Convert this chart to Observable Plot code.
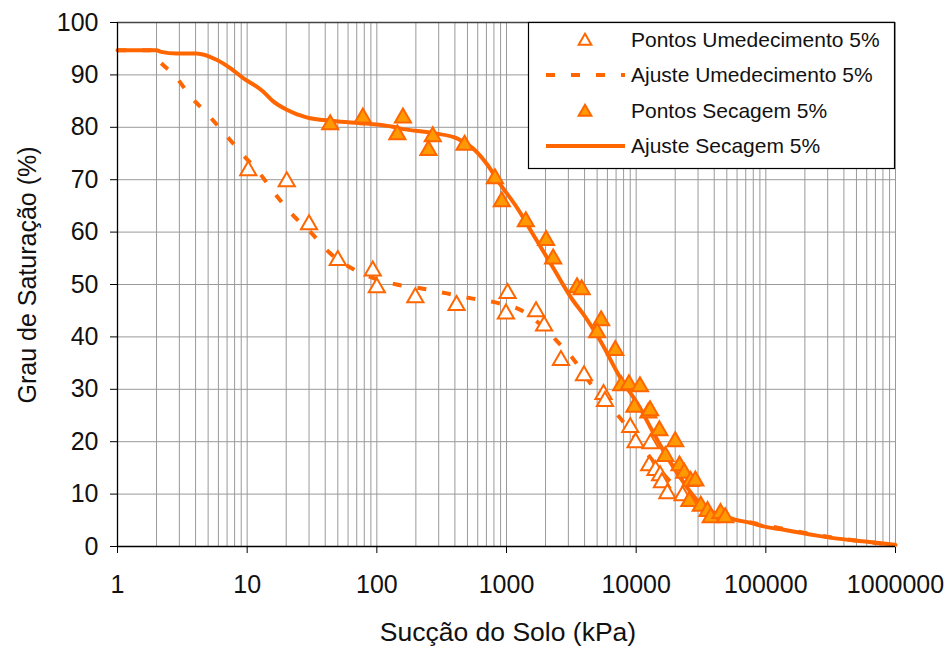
<!DOCTYPE html>
<html>
<head>
<meta charset="utf-8">
<script src="https://cdn.jsdelivr.net/npm/d3@7"></script>
<script src="https://cdn.jsdelivr.net/npm/@observablehq/plot@0.6"></script>
<style>
  html, body { margin: 0; padding: 0; background: #fff; }
  #chart { position: relative; width: 951px; height: 650px; }
</style>
</head>
<body>
<div id="chart"></div>
<script>
// ---- Data ----
const xTickValues = [1, 10, 100, 1000, 10000, 100000, 1000000];
const yTickValues = [0, 10, 20, 30, 40, 50, 60, 70, 80, 90, 100];

const xLabel = "Sucção do Solo (kPa)";
const yLabel = "Grau de Saturação (%)";
const seriesNames = ["Pontos Umedecimento 5%", "Ajuste Umedecimento 5%", "Pontos Secagem 5%", "Ajuste Secagem 5%"];

// Pontos Umedecimento 5% (open triangles)
const wetPoints = [
  [10.2, 72.1], [20.2, 70.0], [30, 61.8], [50, 55.0], [93, 53.0], [100, 49.8],
  [198, 47.9], [412, 46.4], [1020, 48.7], [990, 44.8], [1690, 45.2], [1950, 42.5],
  [2630, 35.9], [3960, 33.0], [5600, 29.4], [5750, 28.1], [9000, 23.1], [9900, 20.2],
  [12900, 20.0], [12600, 15.8], [14100, 14.9], [15300, 13.9], [15800, 12.6],
  [17400, 10.5], [22800, 10.1]
];

// Ajuste Umedecimento 5% (dashed)
const wetCurve = [
  [1, 94.7], [1.8, 94.7], [2.0, 93.2], [2.85, 89.5], [3.6, 86.1], [4.9, 82.6], [6.7, 78.8],
  [9.1, 75.0], [12.5, 71.2], [16.3, 67.4], [22, 63.5], [31.6, 59.7], [43, 56.1],
  [64, 53.1], [100, 51.0], [142, 50.0], [227, 49.2], [347, 48.3], [550, 47.3],
  [850, 46.5], [1320, 45.0], [1800, 42.5], [2450, 39.2], [3270, 35.8], [4420, 31.2],
  [5900, 27.5], [7940, 23.8], [11500, 18.5], [18300, 12.4], [30000, 8.2],
  [45000, 5.9], [70000, 4.8], [100000, 4.0], [150000, 3.2], [200000, 2.6],
  [350000, 1.6], [600000, 0.9], [1000000, 0.2]
];

// Pontos Secagem 5% (filled triangles)
const dryPoints = [
  [43.7, 80.9], [78, 82.2], [159, 82.2], [144, 79.0], [270, 78.6], [250, 76.0],
  [475, 77.0], [815, 70.6], [920, 66.2], [1410, 62.4], [2020, 58.8], [2290, 55.3],
  [3500, 49.8], [3800, 49.4], [5370, 43.5], [5000, 41.2], [6900, 37.8], [7670, 31.1],
  [8800, 31.3], [10700, 30.9], [9700, 27.0], [12400, 25.9], [12800, 26.3],
  [15100, 22.5], [20000, 20.4], [16800, 17.6], [21600, 15.8], [23500, 14.4],
  [26300, 12.8], [28600, 12.9], [25700, 9.0], [31500, 8.1], [35500, 7.1],
  [37600, 5.9], [44700, 6.7], [48600, 5.9]
];

// Ajuste Secagem 5% (solid)
const dryCurve = [
  [1, 94.7], [2.0, 94.7], [2.17, 94.4], [2.85, 94.1], [4.07, 94.1], [5.8, 92.9],
  [7.5, 91.2], [9.2, 89.5], [13.2, 86.9], [15.8, 85.0], [20, 83.4], [28.7, 81.9],
  [46, 81.2], [83, 80.7], [133, 80.1], [150, 79.8], [270, 78.9], [415, 77.9],
  [550, 76.0], [710, 72.9], [890, 69.2], [1210, 64.6], [1600, 59.6], [2290, 53.2],
  [3270, 46.9], [3900, 44.4], [5300, 39.2], [7550, 32.2], [10700, 26.5],
  [12900, 22.7], [16300, 18.2], [21800, 13.2], [29600, 8.8], [41700, 6.2],
  [56000, 5.2], [76000, 4.5], [102000, 3.7], [138000, 3.2], [186000, 2.6],
  [332000, 1.6], [607000, 0.9], [1000000, 0.3]
];

// ---- Build ----
const orange = "#FF6600";
const orangeFill = "#FF9900";
const toObj = a => a.map(([x, y]) => ({x, y}));

// grid positions 1..9 x 10^k (axis ticks, not data)
const gridXValues = [];
for (let k = 0; k < 6; k++) for (let m = 1; m <= 9; m++) gridXValues.push(m * Math.pow(10, k));
gridXValues.push(1000000);

const font = "'Liberation Sans', Arial, sans-serif";

const plot = Plot.plot({
  width: 951,
  height: 650,
  marginLeft: 117,
  marginRight: 56,
  marginTop: 22,
  marginBottom: 104,
  style: { fontFamily: font, fontSize: "25px", color: "#111", background: "#fff" },
  x: { type: "log", domain: [1, 1000000] },
  y: { domain: [0, 100] },
  marks: [
    Plot.gridX(gridXValues.filter(v => v > 1 && v < 1000000), { stroke: "#9a9a9a", strokeOpacity: 1, strokeWidth: 1 }),
    Plot.gridY(yTickValues.filter(v => v > 0 && v < 100), { stroke: "#9a9a9a", strokeOpacity: 1, strokeWidth: 1 }),
    Plot.ruleY([100], { stroke: "#444", strokeWidth: 1.3 }),
    Plot.ruleX([1000000], { stroke: "#9a9a9a", strokeWidth: 1 }),
    Plot.axisX({ ticks: xTickValues, tickFormat: d3.format("d"), tickSize: 7, tickPadding: 22, label: null, stroke: "#000" }),
    Plot.axisY({ ticks: yTickValues, tickSize: 7, tickPadding: 12, label: null, stroke: "#000" }),
    Plot.line(toObj(wetCurve), { x: "x", y: "y", stroke: orange, strokeWidth: 4, strokeDasharray: "9,16", strokeLinecap: "butt", curve: "monotone-x" }),
    Plot.line(toObj(dryCurve), { x: "x", y: "y", stroke: orange, strokeWidth: 4, curve: "monotone-x" }),
    Plot.dot(toObj(wetPoints), { x: "x", y: "y", symbol: "triangle", r: 6, fill: "white", stroke: orange, strokeWidth: 2, dy: 2 }),
    Plot.dot(toObj(dryPoints), { x: "x", y: "y", symbol: "triangle", r: 6, fill: orangeFill, stroke: orange, strokeWidth: 2, dy: 2 }),
    Plot.ruleX([1], { stroke: "#000", strokeWidth: 1.3 }),
    Plot.ruleY([0], { stroke: "#000", strokeWidth: 1.3 })
  ]
});

document.getElementById("chart").appendChild(plot);

// ---- Axis titles and legend (drawn in the same SVG) ----
const svg = d3.select(plot);

svg.append("text")
  .attr("x", 508).attr("y", 632).attr("dy", "0.35em")
  .attr("text-anchor", "middle")
  .style("font-family", font).style("font-size", "26.5px").attr("fill", "#111")
  .text(xLabel);

svg.append("text")
  .attr("transform", "translate(27,275) rotate(-90)")
  .attr("dy", "0.35em")
  .attr("text-anchor", "middle")
  .style("font-family", font).style("font-size", "25px").attr("fill", "#111")
  .text(yLabel);

const lg = svg.append("g");
lg.append("rect")
  .attr("x", 528.5).attr("y", 22.5).attr("width", 366).attr("height", 146)
  .attr("fill", "white").attr("stroke", "#000").attr("stroke-width", 1.2);

const rowsY = [40, 75, 111, 146];
const triPath = d3.symbol(d3.symbolTriangle, 70)();
const symX = 585;

// row 0: open triangle
lg.append("path").attr("d", triPath).attr("transform", `translate(${symX},${rowsY[0] + 1})`)
  .attr("fill", "white").attr("stroke", orange).attr("stroke-width", 2);
// row 1: dashed line
lg.append("line").attr("x1", 546).attr("x2", 625).attr("y1", rowsY[1]).attr("y2", rowsY[1])
  .attr("stroke", orange).attr("stroke-width", 4).attr("stroke-dasharray", "9,16");
// row 2: filled triangle
lg.append("path").attr("d", triPath).attr("transform", `translate(${symX},${rowsY[2] + 1})`)
  .attr("fill", orangeFill).attr("stroke", orange).attr("stroke-width", 2);
// row 3: solid line
lg.append("line").attr("x1", 546).attr("x2", 625).attr("y1", rowsY[3]).attr("y2", rowsY[3])
  .attr("stroke", orange).attr("stroke-width", 4);

seriesNames.forEach((name, i) => {
  lg.append("text")
    .attr("x", 631).attr("y", rowsY[i]).attr("dy", "0.35em")
    .attr("text-anchor", "start")
    .style("font-family", font).style("font-size", "21px").attr("fill", "#111")
    .text(name);
});
</script>
</body>
</html>
